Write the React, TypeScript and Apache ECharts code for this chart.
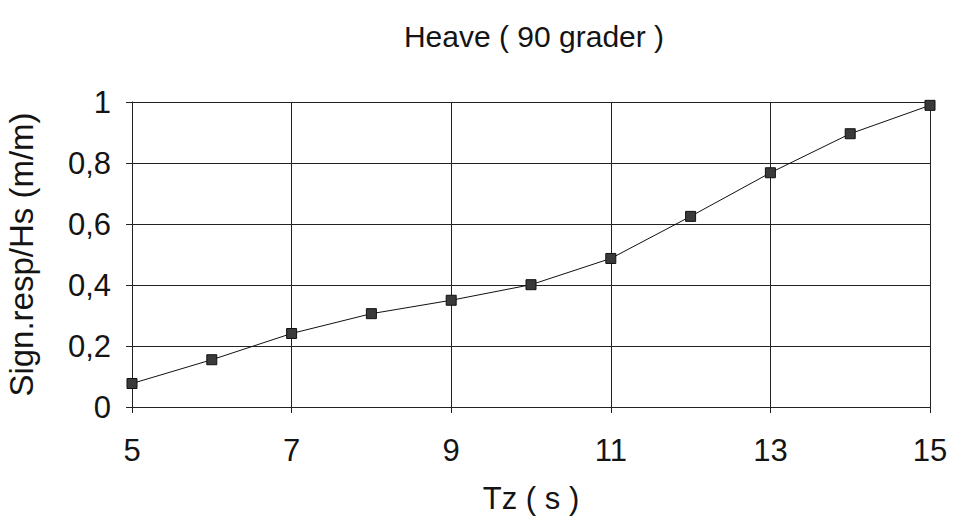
import React, { useEffect, useRef } from "react";
import * as echarts from "echarts";

const periods = ["5", "6", "7", "8", "9", "10", "11", "12", "13", "14", "15"];
const response = [0.077, 0.155, 0.241, 0.306, 0.35, 0.401, 0.487, 0.625, 0.768, 0.896, 0.989];

const titleText = "Heave ( 90 grader )";
const xName = "Tz ( s )";
const yName = "Sign.resp/Hs (m/m)";

const FONT = "'Liberation Sans', Arial, Helvetica, sans-serif";
const INK = "#141414";

export default function App() {
  const ref = useRef<HTMLDivElement>(null);

  useEffect(() => {
    if (!ref.current) return;
    const chart = echarts.init(ref.current, undefined, { renderer: "svg" });
    chart.setOption({
      animation: false,
      backgroundColor: "#ffffff",
      title: {
        text: titleText,
        left: 529,
        top: 16,
        textAlign: "center",
        textStyle: { fontFamily: FONT, fontSize: 30, fontWeight: "normal", color: INK },
      },
      grid: {
        left: 132,
        right: 25,
        top: 102,
        bottom: 114,
        containLabel: false,
        outerBoundsMode: "none",
      },
      xAxis: {
        type: "category",
        data: periods,
        boundaryGap: false,
        name: xName,
        nameLocation: "middle",
        nameGap: 76,
        nameTextStyle: { fontFamily: FONT, fontSize: 31, color: INK },
        axisLine: { lineStyle: { color: "#222", width: 1 } },
        axisTick: { show: true, interval: 1, length: 6, lineStyle: { color: "#222" } },
        axisLabel: {
          interval: 1,
          margin: 28,
          fontFamily: FONT,
          fontSize: 31,
          color: INK,
        },
        splitLine: { show: true, interval: 1, lineStyle: { color: "#222", width: 1 } },
      },
      yAxis: {
        type: "value",
        min: 0,
        max: 1,
        interval: 0.2,
        name: yName,
        nameLocation: "middle",
        nameGap: 94,
        nameTextStyle: { fontFamily: FONT, fontSize: 33, color: INK },
        axisLine: { show: true, lineStyle: { color: "#222", width: 1 } },
        axisTick: { show: true, length: 6, lineStyle: { color: "#222" } },
        axisLabel: {
          margin: 21,
          fontFamily: FONT,
          fontSize: 31,
          color: INK,
          formatter: (v: number) => String(Math.round(v * 10) / 10).replace(".", ","),
        },
        splitLine: { show: true, lineStyle: { color: "#222", width: 1 } },
      },
      series: [
        {
          type: "line",
          data: response,
          symbol: "rect",
          symbolSize: 10,
          itemStyle: { color: "#3a3a3a", borderColor: "#111", borderWidth: 1 },
          lineStyle: { color: "#111", width: 1 },
          z: 3,
        },
      ],
    });
    return () => chart.dispose();
  }, []);

  return (
    <div
      ref={ref}
      style={{ position: "absolute", left: 0, top: 0, width: 955, height: 521 }}
    />
  );
}
